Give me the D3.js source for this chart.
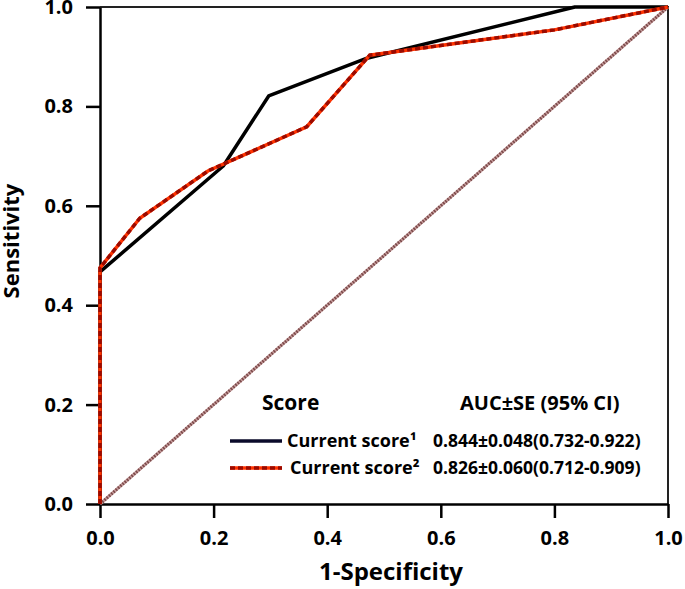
<!DOCTYPE html>
<html>
<head>
<meta charset="utf-8">
<script src="https://cdn.jsdelivr.net/npm/d3@7"></script>
<style>
  body { margin: 0; background: #fff; }
  text { font-family: "Open Sans", sans-serif; font-weight: bold; fill: #000; }
</style>
</head>
<body>
<svg id="chart" width="685" height="589"></svg>
<script>
// ----- data -----
var score1 = [
  [0, 0], [0, 0.467], [0.217, 0.68], [0.297, 0.821], [0.47, 0.897], [0.836, 1.0], [1, 1]
];
var score2 = [
  [0, 0], [0, 0.475], [0.07, 0.575], [0.19, 0.67], [0.364, 0.759], [0.475, 0.903], [0.8, 0.954], [1, 1]
];
var reference = [[0, 0], [1, 1]];
var tickValues = [0, 0.2, 0.4, 0.6, 0.8, 1.0];
var legendNames = ["Current score\u00b9", "Current score\u00b2"];
var legendStats = ["0.844\u00b10.048(0.732-0.922)", "0.826\u00b10.060(0.712-0.909)"];

var svg = d3.select('#chart');
var plotLeft = 100, plotRight = 668, plotTop = 7, plotBottom = 504;

var x = d3.scaleLinear().domain([0, 1]).range([plotLeft, plotRight]);
var y = d3.scaleLinear().domain([0, 1]).range([plotBottom, plotTop]);

var line = d3.line()
  .x(function(d) { return x(d[0]); })
  .y(function(d) { return y(d[1]); });

// frame (top + right)
svg.append('path')
   .attr('d', 'M' + plotLeft + ',' + plotTop + 'H' + plotRight + 'V' + plotBottom)
   .attr('fill', 'none')
   .attr('stroke', '#222')
   .attr('stroke-width', 2);

// axes
var xAxis = svg.append('g')
  .attr('transform', 'translate(0,' + plotBottom + ')')
  .call(d3.axisBottom(x).tickValues(tickValues).tickFormat(d3.format('.1f')).tickSize(14).tickSizeOuter(0));
var yAxis = svg.append('g')
  .attr('transform', 'translate(' + plotLeft + ',0)')
  .call(d3.axisLeft(y).tickValues(tickValues).tickFormat(d3.format('.1f')).tickSize(14).tickSizeOuter(0));

[xAxis, yAxis].forEach(function(g) {
  g.select('.domain').attr('stroke', '#000').attr('stroke-width', 2.5);
  g.selectAll('.tick line').attr('stroke', '#000').attr('stroke-width', 2.5);
  g.selectAll('.tick text')
   .style('font-family', '"Open Sans", sans-serif')
   .style('font-weight', 'bold')
   .style('font-size', '20px')
   .attr('fill', '#000');
});
xAxis.selectAll('.tick text').attr('y', 27).attr('dy', '0.71em');
yAxis.selectAll('.tick text').attr('x', -27);

// diagonal reference line
svg.append('path').datum(reference)
   .attr('d', line).attr('fill', 'none')
   .attr('stroke', '#c49a9a').attr('stroke-width', 3);
svg.append('path').datum(reference)
   .attr('d', line).attr('fill', 'none')
   .attr('stroke', '#7a4848').attr('stroke-width', 3)
   .attr('stroke-dasharray', '1.5,1.5');

// score 1 - solid black
svg.append('path').datum(score1)
   .attr('d', line).attr('fill', 'none')
   .attr('stroke', '#000').attr('stroke-width', 3.5)
   .attr('stroke-linejoin', 'round');

// score 2 - red dashed
svg.append('path').datum(score2)
   .attr('d', line).attr('fill', 'none')
   .attr('stroke', '#ff3300').attr('stroke-width', 3.5);
svg.append('path').datum(score2)
   .attr('d', line).attr('fill', 'none')
   .attr('stroke', '#9a0a00').attr('stroke-width', 3.5)
   .attr('stroke-dasharray', '5,3');

// axis titles
svg.append('text')
   .attr('x', 391).attr('y', 580)
   .attr('text-anchor', 'middle')
   .style('font-size', '24px')
   .text('1-Specificity');
svg.append('text')
   .attr('transform', 'translate(19,241) rotate(-90)')
   .attr('text-anchor', 'middle')
   .style('font-size', '22px')
   .text('Sensitivity');

// legend
var legend = svg.append('g');
legend.append('text').attr('x', 262).attr('y', 410).style('font-size', '21px').text('Score');
legend.append('text').attr('x', 460).attr('y', 410).style('font-size', '20px').text('AUC\u00b1SE (95% CI)');

var rows = legend.selectAll('g.row')
  .data(legendNames)
  .enter().append('g')
  .attr('class', 'row')
  .attr('transform', function(d, i) { return 'translate(0,' + (441 + i * 27) + ')'; });

rows.append('line')
  .attr('x1', 230).attr('x2', 282)
  .attr('stroke', function(d, i) { return i === 0 ? '#0a0a2a' : '#ff3300'; })
  .attr('stroke-width', 3.5);
rows.filter(function(d, i) { return i === 1; })
  .append('line')
  .attr('x1', 230).attr('x2', 282)
  .attr('stroke', '#9a0a00').attr('stroke-width', 3.5)
  .attr('stroke-dasharray', '5,3');

rows.append('text')
  .attr('x', function(d, i) { return i === 0 ? 287 : 290; })
  .attr('y', 6)
  .style('font-size', '18px')
  .text(function(d) { return d; });
rows.append('text')
  .attr('x', 433)
  .attr('y', 6)
  .style('font-size', '17.5px')
  .text(function(d, i) { return legendStats[i]; });
</script>
</body>
</html>
